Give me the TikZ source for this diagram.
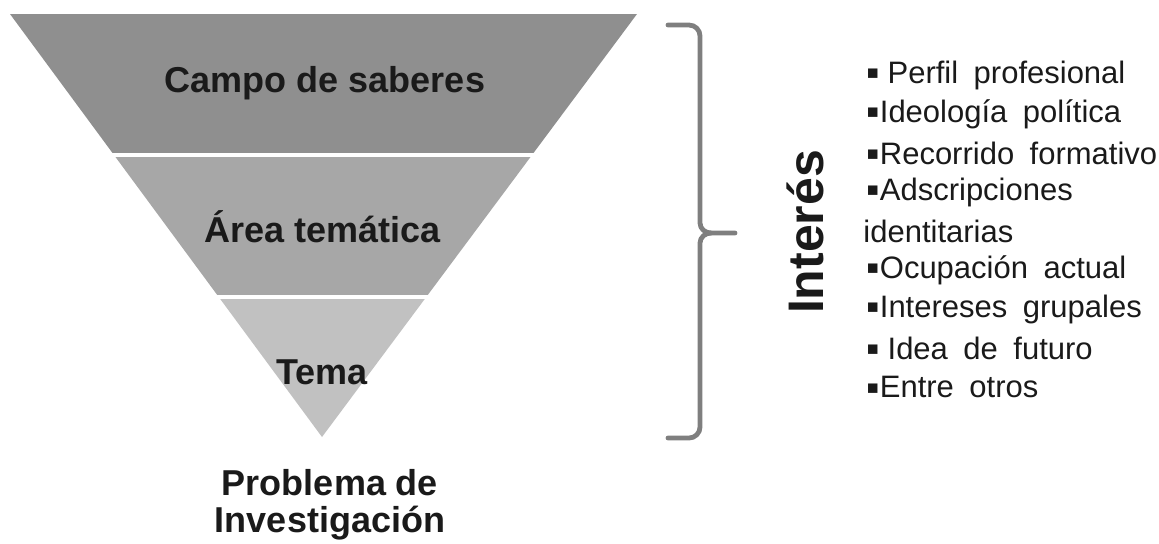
\documentclass[tikz,border=0pt]{standalone}
\usepackage{fontspec}
\setmainfont{Liberation Sans}
\usepackage{tikz}

\definecolor{bandA}{HTML}{8F8F8F}
\definecolor{bandB}{HTML}{A7A7A7}
\definecolor{bandC}{HTML}{C1C1C1}
\definecolor{bracegray}{HTML}{7F7F7F}
\definecolor{inkblack}{HTML}{1A1A1A}

\newcommand{\sqmark}{\smash{\raisebox{-0.08em}{\fontsize{19}{0}\selectfont ▪}}}

\tikzset{
    level/.style={font=\fontsize{18}{18.5}\selectfont\bfseries,text=inkblack,inner sep=0pt},
    item/.style={anchor=west,font=\fontsize{15.5}{19.5}\selectfont,text=inkblack,inner sep=0pt,
                 execute at begin node={\spaceskip=0.5em\relax}},
    bracepath/.style={draw=bracegray,line width=2.4pt,line cap=round,line join=round}
}

\begin{document}
\begin{tikzpicture}[x=0.5pt,y=-0.5pt]
        \useasboundingbox (0,0) rectangle (1159,543);

        % Inverted triangle in three bands
        \begin{scope}
            \clip (10,14) -- (637,14) -- (322,437) -- cycle;
            \fill[bandA] (0,14)  rectangle (650,153);
            \fill[bandB] (0,157) rectangle (650,295);
            \fill[bandC] (0,299) rectangle (650,440);
        \end{scope}

        \node (Lcampo) at (325,83)  [level] {Campo de saberes};
        \node (Larea)  at (323,227) [level] {Área temática};
        \node (Ltema)  at (322,372) [level] {Tema};
        \node (Lprob)  at (330,505) [level,align=center] {Problema de\\Investigación};

        % Curly bracket
        \draw[bracepath] (668,25) -- (689,25) to[out=0,in=90] (700,36)
                                  -- (700,223) to[out=-90,in=180] (711,233) -- (735,233);
        \draw[bracepath] (711,233) to[out=180,in=90] (700,243)
                                  -- (700,427) to[out=-90,in=0] (689,438) -- (668,438);

        \node (Linteres) at (823,232) [anchor=base,rotate=90,inner sep=0pt,text=inkblack,
                                       font=\fontsize{25}{25}\selectfont\bfseries] {Interés};

        % List of interests
        \node (Iperfil)   at (866,75)  [item] {\sqmark\hspace{0.25em}Perfil profesional};
        \node (Iideo)     at (866,114) [item] {\sqmark Ideología política};
        \node (Irecorr)   at (866,153) [item] {\sqmark Recorrido formativo};
        \node (Iadscr)    at (866,192) [item] {\sqmark Adscripciones};
        \node (Iident)    at (863,231) [item] {identitarias};
        \node (Iocup)     at (866,270) [item] {\sqmark Ocupación actual};
        \node (Igrupo)    at (866,309) [item] {\sqmark Intereses grupales};
        \node (Ifuturo)   at (866,348) [item] {\sqmark\hspace{0.25em}Idea de futuro};
        \node (Iotros)    at (866,387) [item] {\sqmark Entre otros};
\end{tikzpicture}
\end{document}
